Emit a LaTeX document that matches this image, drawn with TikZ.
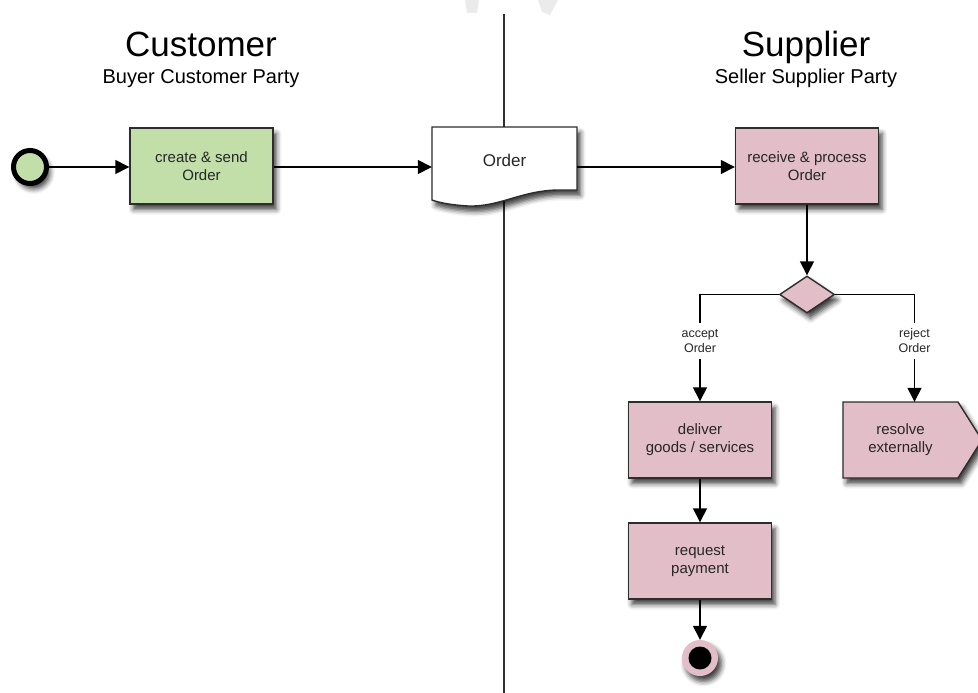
\documentclass[tikz,border=0pt]{standalone}
\usepackage{fontspec}
\setmainfont{Liberation Sans}
\usetikzlibrary{arrows.meta,shapes.geometric,shadows.blur,calc}
\definecolor{taskgreen}{RGB}{194,223,170}
\definecolor{taskpink}{RGB}{225,190,200}
\definecolor{edgegray}{RGB}{45,45,45}
\definecolor{marklight}{RGB}{235,235,235}

\begin{document}
\begin{tikzpicture}[x=1pt,y=-1pt,
  softshadow/.style={blur shadow={shadow xshift=3.5pt,shadow yshift=-5.5pt,shadow blur radius=5pt,shadow opacity=75}},
  task/.style={draw=edgegray,line width=1.4pt,minimum width=143pt,minimum height=76pt,
    align=center,font=\fontsize{15}{18}\selectfont,softshadow,text=black!85},
  textonly/.style={align=center,font=\fontsize{15}{18}\selectfont,text=black!85},
  flow/.style={draw=black,line width=1.4pt,-{Triangle[length=14pt,width=14pt]}},
  plain/.style={draw=black,line width=1.4pt},
  guard/.style={font=\fontsize{12.5}{15}\selectfont,align=center,text=black!85,inner sep=0pt},
  lanetitle/.style={font=\fontsize{35}{40}\selectfont,anchor=base},
  lanesub/.style={font=\fontsize{20}{24}\selectfont,anchor=base}
]
\useasboundingbox (0,0) rectangle (978,693);

% faint marks along the top edge
\fill[marklight] (465,0) -- (479,0) -- (477,13) -- (467,13) -- cycle;
\fill[marklight] (538,0) -- (558,0) -- (550,15) -- (542,12) -- cycle;

% lane divider
\coordinate (laneTop) at (504,14);
\coordinate (laneBot) at (504,693);
\draw[edgegray,line width=1.3pt] (laneTop) -- (laneBot);

% lane headings
\node[lanetitle] (custTitle) at (201,57) {Customer};
\node[lanesub] (custSub) at (201,84) {Buyer Customer Party};
\node[lanetitle] (suppTitle) at (806,57) {Supplier};
\node[lanesub] (suppSub) at (806,84) {Seller Supplier Party};

% start event
\node[circle,draw=black,line width=5pt,fill=taskgreen,minimum size=33pt,inner sep=0pt,softshadow] (start) at (30,167) {};

% customer task
\node[task,fill=taskgreen] (create) at (201.5,166) {create \& send\\Order};

% order document
\path[draw=edgegray,line width=1.4pt,fill=white,softshadow]
  (432,127) -- (577,127) -- (577,190) -- (557,190)
  .. controls (520,191) and (500,207) .. (468,206)
  .. controls (452,205) and (440,203) .. (432,200) -- cycle;
\node[minimum width=145pt,minimum height=73pt,inner sep=0pt,font=\fontsize{17}{20}\selectfont,text=black!85] (order) at (504.5,160) {Order};

% supplier tasks
\node[task,fill=taskpink] (receive) at (807,166) {receive \& process\\Order};
\node[diamond,draw=edgegray,line width=1.4pt,fill=taskpink,minimum width=55pt,minimum height=37pt,inner sep=0pt,softshadow] (gate) at (807,294.5) {};
\node[task,fill=taskpink] (deliver) at (700,440) {deliver\\goods / services};
\node[task,fill=taskpink] (request) at (700,561) {request\\payment};

% external resolution (pointed task)
\path[draw=edgegray,line width=1.4pt,fill=taskpink,softshadow]
  (843,402) -- (958,402) -- (982,440) -- (958,478) -- (843,478) -- cycle;
\node[textonly,minimum width=115pt,minimum height=76pt] (resolve) at (900.5,440) {resolve\\externally};

% end event
\node[circle,fill=taskpink,minimum size=36pt,inner sep=0pt,softshadow] (stop) at (700,658) {};
\node[circle,fill=black,minimum size=23pt,inner sep=0pt] (stopcore) at (stop) {};

% guard labels
\node[guard] (acceptLbl) at (700,341) {accept\\Order};
\node[guard] (rejectLbl) at (914.5,341) {reject\\Order};

% sequence flows
\draw[flow] (start.east |- 0,167) -- (create.west |- 0,167);
\draw[flow] (create.east |- 0,167) -- (order.west |- 0,167);
\draw[flow] (order.east |- 0,167) -- (receive.west |- 0,167);
\draw[flow] (receive.south -| gate.north) -- (gate.north);
\draw[plain] (gate.west) -| ($(acceptLbl.north)+(0,-6)$);
\draw[flow] ($(acceptLbl.south)+(0,6)$) -- (acceptLbl.south |- deliver.north);
\draw[plain] (gate.east) -| ($(rejectLbl.north)+(0,-6)$);
\draw[flow] ($(rejectLbl.south)+(0,6)$) -- ($(rejectLbl.south |- resolve.north)$);
\draw[flow] (deliver.south) -- (request.north);
\draw[flow] (request.south) -- (stop.north);
\end{tikzpicture}
\end{document}
